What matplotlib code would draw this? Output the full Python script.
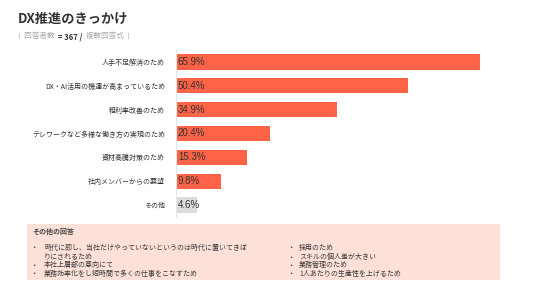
import matplotlib.pyplot as plt
from matplotlib.patches import Rectangle

plt.rcParams['font.family'] = ['Noto Sans CJK JP', 'DejaVu Sans']

categories = ['人手不足解消のため', 'DX・AI活用の機運が高まっているため', '粗利率改善のため',
              'テレワークなど多様な働き方の実現のため', '資材高騰対策のため',
              '社内メンバーからの要望', 'その他']
values = [65.9, 50.4, 34.9, 20.4, 15.3, 9.8, 4.6]
others_left = ['時代に即し、当社だけやっていないというのは時代に置いてきぼ\nりにされるため',
               '本社上層部の意向にて',
               '業務効率化をし短時間で多くの仕事をこなすため']
others_right = ['採用のため', 'スキルの個人差が大きい', '業務管理のため', '1人あたりの生産性を上げるため']

W, H = 536, 302
fig = plt.figure(figsize=(W / 100, H / 100), dpi=100)
fig.patch.set_facecolor('white')


def fx(px):
    return px / W


def fy(py):
    return 1 - py / H


# title and subtitle
fig.text(fx(18), fy(19), 'DX推進のきっかけ', fontsize=9.5, fontweight='bold',
         color='#333333', va='center')
fig.canvas.draw()
r = fig.canvas.get_renderer()
x = fx(18)
for s, c, w in [('(  回答者数  ', '#aaaaaa', 'normal'), ('= 367 / ', '#333333', 'bold'),
                (' 複数回答式  )', '#aaaaaa', 'normal')]:
    t = fig.text(x, fy(37), s, fontsize=5.5, color=c, fontweight=w, va='center')
    bb = t.get_window_extent(renderer=r)
    x += bb.width / W

# bar chart
ax = fig.add_axes([fx(176), fy(217), fx(500) - fx(176), (217 - 50) / H])
colors = ['#ff6347'] * (len(values) - 1) + ['#dcdcdc']
ypos = list(range(len(values)))
ax.barh(ypos, values, height=0.64, color=colors, zorder=2)
ax.set_xlim(0, (500 - 176) / 4.613)
ax.set_ylim(len(values) - 0.5, -0.5)
for sp in ['top', 'right', 'bottom']:
    ax.spines[sp].set_visible(False)
ax.spines['left'].set_color('#e6e6e6')
ax.spines['left'].set_linewidth(0.8)
ax.set_xticks([])
ax.set_yticks(ypos)
ax.set_yticklabels(categories, fontsize=5, color='#333333')
ax.tick_params(axis='y', length=0, pad=8)
for i, v in enumerate(values):
    ax.text(0.4, i, f'{v}%', fontsize=7, color='#333333', va='center', ha='left',
            family=['Liberation Sans', 'DejaVu Sans'], zorder=3)

# other answers box
fig.patches.append(Rectangle((fx(27), fy(280)), fx(500) - fx(27), (280 - 224) / H,
                             transform=fig.transFigure, facecolor='#fde0d7',
                             edgecolor='none', zorder=0))
fig.text(fx(32), fy(231), 'その他の回答', fontsize=5, fontweight='bold',
         color='#444444', va='center')

left_y = [248, 265, 274]
for s, yy in zip(others_left, left_y):
    fig.text(fx(32), fy(yy), '•', fontsize=4, color='#444444', va='center',
             family=['DejaVu Sans'])
    for k, ln in enumerate(s.split('\n')):
        fig.text(fx(44), fy(yy + 8.5 * k), ln, fontsize=5, color='#3a3a3a', va='center')

right_y = [248, 257, 265, 274]
for s, yy in zip(others_right, right_y):
    fig.text(fx(289), fy(yy), '•', fontsize=4, color='#444444', va='center',
             family=['DejaVu Sans'])
    fig.text(fx(299), fy(yy), s, fontsize=5, color='#3a3a3a', va='center')

fig.savefig('out.png', dpi=100)
